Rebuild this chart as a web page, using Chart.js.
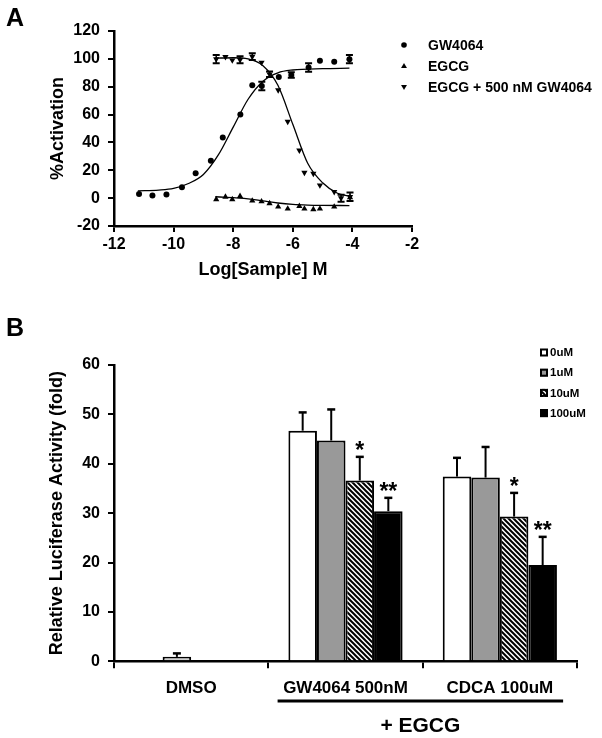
<!DOCTYPE html>
<html>
<head>
<meta charset="utf-8">
<script src="https://cdn.jsdelivr.net/npm/chart.js@4.4.1/dist/chart.umd.min.js"></script>
<style>
  html, body { margin: 0; padding: 0; background: #fff; }
  body { width: 602px; height: 738px; position: relative; overflow: hidden; font-family: "Liberation Sans", Arial, sans-serif; }
  .box { position: absolute; left: 0; width: 602px; }
  #boxA { top: 0; height: 300px; }
  #boxB { top: 300px; height: 438px; }
  .letter { position: absolute; font-weight: bold; font-size: 25px; line-height: 1; z-index: 2; }
</style>
</head>
<body>
<div id="boxA" class="box"><canvas id="chartA"></canvas></div>
<div id="boxB" class="box"><canvas id="chartB"></canvas></div>
<div class="letter" style="left:6px;top:5px">A</div>
<div class="letter" style="left:6px;top:315px">B</div>
<script>
// ---------- Panel A: dose response (x = log molar concentration) ----------
const gwLogConc = [-11.16, -10.71, -10.24, -9.72, -9.26, -8.75, -8.35, -7.76, -7.36, -7.04, -6.47, -6.05, -5.47, -5.09, -4.61, -4.10];
const gwActivation = [2.9, 1.9, 2.6, 7.9, 17.9, 26.9, 43.6, 60.0, 81.0, 80.5, 87.0, 88.4, 93.8, 98.6, 97.9, 99.8];
const gwError = [0, 0, 0, 0, 0, 0, 0, 0, 0, 3, 0, 2, 3, 0, 0, 3];

const egcgLogConc = [-8.57, -8.26, -8.03, -7.77, -7.36, -7.05, -6.78, -6.49, -6.17, -5.78, -5.61, -5.31, -5.09, -4.61, -4.08];
const egcgActivation = [-0.9, 0.9, -0.9, 1.4, -1.9, -2.4, -3.8, -6.2, -7.6, -5.7, -7.6, -8.1, -7.6, -6.2, 0.5];

const comboLogConc = [-8.57, -8.26, -8.03, -7.77, -7.36, -7.05, -6.78, -6.49, -6.17, -5.78, -5.61, -5.31, -5.09, -4.61, -4.38, -4.08];
const comboActivation = [99.8, 101.4, 99.0, 99.3, 101.6, 97.4, 89.0, 77.6, 55.0, 34.3, 18.3, 17.6, 9.3, 4.5, 0.0, 1.0];
const comboError = [3, 0, 0, 2.5, 2.5, 0, 2, 0, 0, 0, 0, 0, 0, 0, 2.5, 3];

// fitted curves
const gwFitX = [-11.2, -10.5, -10, -9.5, -9, -8.5, -8, -7.5, -7, -6.5, -6, -5, -4.1];
const gwFitY = [5.2, 5.8, 7, 10.5, 17, 31, 51, 71, 84, 90, 92, 93, 93.3];
const egcgFitX = [-8.6, -7.5, -7, -6.5, -6, -5.5, -5, -4.1];
const egcgFitY = [1, -0.5, -2, -3.5, -4.5, -5, -5.2, -5.3];
const comboFitX = [-8.6, -8, -7.5, -7, -6.5, -6, -5.5, -5, -4.5, -4.1];
const comboFitY = [100.5, 100.8, 100, 95, 81, 53, 25, 11, 3.5, 1.5];

const xTicksA = [-12, -10, -8, -6, -4, -2];
const yTicksA = [-20, 0, 20, 40, 60, 80, 100, 120];

// ---------- Panel B: luciferase activity ----------
const groupLabels = ['DMSO', 'GW4064 500nM', 'CDCA 100uM'];
const doseLabels = ['0uM', '1uM', '10uM', '100uM'];
const fold0 = [null, 46.7, 37.4];
const fold1 = [0.9, 44.7, 37.2];
const fold10 = [null, 36.6, 29.3];
const fold100 = [null, 30.4, 19.5];
const err0 = [0, 3.7, 3.8];
const err1 = [0.7, 6.3, 6.2];
const err10 = [0, 4.8, 4.8];
const err100 = [0, 2.7, 5.7];
const sig10 = ['', '*', '*'];
const sig100 = ['', '**', '**'];

const FONT = "'Liberation Sans', Arial, sans-serif";
Chart.defaults.font.family = FONT;
Chart.defaults.font.weight = 'bold';
Chart.defaults.color = '#000';

function pts(xs, ys) {
  return xs.map((x, i) => ({ x: x, y: ys[i] }));
}

function marker(ctx, style, x, y, r) {
  ctx.beginPath();
  if (style === 'circle') {
    ctx.arc(x, y, r, 0, Math.PI * 2);
  } else {
    const s = style === 'down' ? -1 : 1;
    ctx.moveTo(x, y - s * r * 1.1);
    ctx.lineTo(x + r * 1.05, y + s * r * 0.7);
    ctx.lineTo(x - r * 1.05, y + s * r * 0.7);
    ctx.closePath();
  }
  ctx.fill();
}

// small symmetric error bars on panel A points + the legend
const errorBarsA = {
  id: 'errorBarsA',
  afterDatasetsDraw(chart) {
    const ctx = chart.ctx, ys = chart.scales.y;
    ctx.save();
    ctx.strokeStyle = '#000';
    chart.data.datasets.forEach((ds, i) => {
      if (!ds.errorBars) return;
      chart.getDatasetMeta(i).data.forEach((pt, j) => {
        const e = ds.errorBars[j];
        if (!e) return;
        const v = ds.data[j].y;
        const y1 = ys.getPixelForValue(v + e), y2 = ys.getPixelForValue(v - e);
        ctx.lineWidth = 1.5;
        ctx.beginPath();
        ctx.moveTo(pt.x, y1); ctx.lineTo(pt.x, y2);
        ctx.stroke();
        ctx.lineWidth = 2;
        ctx.beginPath();
        ctx.moveTo(pt.x - 3.5, y1); ctx.lineTo(pt.x + 3.5, y1);
        ctx.moveTo(pt.x - 3.5, y2); ctx.lineTo(pt.x + 3.5, y2);
        ctx.stroke();
      });
    });
    ctx.restore();
  },
  afterDraw(chart) {
    const ctx = chart.ctx;
    ctx.save();
    ctx.fillStyle = '#000';
    ctx.font = 'bold 14px ' + FONT;
    ctx.textBaseline = 'middle';
    chart.data.datasets.forEach(ds => {
      if (ds.legendRow === undefined) return;
      const y = 45 + ds.legendRow * 21;
      marker(ctx, ds.marker, 404, y, 2.8);
      ctx.fillText(ds.label, 428, y + 1);
    });
    ctx.restore();
  }
};

new Chart(document.getElementById('chartA'), {
  type: 'scatter',
  data: {
    datasets: [
      { label: 'fit GW4064', data: pts(gwFitX, gwFitY), showLine: true, pointRadius: 0, borderColor: '#000', borderWidth: 1.3, cubicInterpolationMode: 'monotone' },
      { label: 'fit EGCG', data: pts(egcgFitX, egcgFitY), showLine: true, pointRadius: 0, borderColor: '#000', borderWidth: 1.3, cubicInterpolationMode: 'monotone' },
      { label: 'fit combo', data: pts(comboFitX, comboFitY), showLine: true, pointRadius: 0, borderColor: '#000', borderWidth: 1.3, cubicInterpolationMode: 'monotone' },
      { label: 'GW4064', data: pts(gwLogConc, gwActivation), errorBars: gwError, legendRow: 0, marker: 'circle',
        pointStyle: 'circle', pointRadius: 3, backgroundColor: '#000', borderColor: '#000', borderWidth: 0 },
      { label: 'EGCG', data: pts(egcgLogConc, egcgActivation), legendRow: 1, marker: 'up',
        pointStyle: 'triangle', pointRadius: 3.6, backgroundColor: '#000', borderColor: '#000', borderWidth: 0 },
      { label: 'EGCG + 500 nM GW4064', data: pts(comboLogConc, comboActivation), errorBars: comboError, legendRow: 2, marker: 'down',
        pointStyle: 'triangle', pointRotation: 180, pointRadius: 3.6, backgroundColor: '#000', borderColor: '#000', borderWidth: 0 }
    ]
  },
  options: {
    responsive: true,
    maintainAspectRatio: false,
    animation: false,
    layout: { padding: { left: 0, top: 31, right: 190, bottom: 0 } },
    plugins: { legend: { display: false }, tooltip: { enabled: false } },
    scales: {
      x: {
        type: 'linear', min: -12, max: -2,
        afterBuildTicks: s => { s.ticks = xTicksA.map(v => ({ value: v })); },
        afterFit: s => { s.height = 74; },
        border: { display: true, color: '#000', width: 2.5 },
        grid: { display: true, drawOnChartArea: false, drawTicks: true, tickLength: 6, color: '#000', lineWidth: 2 },
        ticks: { font: { size: 16, weight: 'bold' }, color: '#000', padding: 3 },
        title: { display: true, text: 'Log[Sample] M', font: { size: 18, weight: 'bold' }, color: '#000', padding: { top: 0, bottom: 19 } }
      },
      y: {
        type: 'linear', min: -20, max: 120,
        afterBuildTicks: s => { s.ticks = yTicksA.map(v => ({ value: v })); },
        afterFit: s => { s.width = 114; },
        border: { display: true, color: '#000', width: 2.5 },
        grid: { display: true, drawOnChartArea: false, drawTicks: true, tickLength: 6, color: '#000', lineWidth: 2 },
        ticks: { font: { size: 16, weight: 'bold' }, color: '#000', padding: 8 },
        title: { display: true, text: '%Activation', font: { size: 18, weight: 'bold' }, color: '#000', padding: { top: 47, bottom: 0 } }
      }
    }
  },
  plugins: [errorBarsA]
});

// ---------- Panel B ----------
function hatchPattern(ctx) {
  const c = document.createElement('canvas');
  c.width = 5; c.height = 5;
  const g = c.getContext('2d');
  g.fillStyle = '#fff';
  g.fillRect(0, 0, 5, 5);
  g.strokeStyle = '#000';
  g.lineWidth = 2;
  g.beginPath();
  for (let k = -5; k <= 5; k += 5) { g.moveTo(k - 1, -1); g.lineTo(k + 6, 6); }
  g.stroke();
  return ctx.createPattern(c, 'repeat');
}

const canvasB = document.getElementById('chartB');
const hatch = hatchPattern(canvasB.getContext('2d'));

const barExtras = {
  id: 'barExtras',
  afterDatasetsDraw(chart) {
    const ctx = chart.ctx, ys = chart.scales.y;
    ctx.save();
    ctx.strokeStyle = '#000';
    ctx.fillStyle = '#000';
    chart.data.datasets.forEach((ds, i) => {
      chart.getDatasetMeta(i).data.forEach((bar, j) => {
        const v = ds.data[j];
        if (v == null) return;
        const top = ys.getPixelForValue(v + ds.errorBars[j]);
        ctx.lineWidth = 2;
        ctx.beginPath(); ctx.moveTo(bar.x, bar.y); ctx.lineTo(bar.x, top); ctx.stroke();
        ctx.lineWidth = 2.5;
        ctx.beginPath(); ctx.moveTo(bar.x - 4, top); ctx.lineTo(bar.x + 4, top); ctx.stroke();
        const s = ds.stars && ds.stars[j];
        if (s) {
          ctx.font = 'bold 23px ' + FONT;
          ctx.textAlign = 'center';
          ctx.textBaseline = 'alphabetic';
          ctx.fillText(s, bar.x, top + 1);
        }
      });
    });
    ctx.restore();
  },
  afterDraw(chart) {
    const ctx = chart.ctx, xs = chart.scales.x;
    ctx.save();
    // legend
    ctx.font = 'bold 11.5px ' + FONT;
    ctx.textBaseline = 'middle';
    ctx.textAlign = 'left';
    chart.data.datasets.forEach((ds, i) => {
      const y = 52.5 + i * 20.2;
      ctx.fillStyle = ds.legendFill;
      ctx.fillRect(540, y - 4, 8, 8);
      ctx.strokeStyle = '#000';
      ctx.lineWidth = 2;
      ctx.strokeRect(541, y - 3, 6, 6);
      ctx.fillStyle = '#000';
      ctx.fillText(ds.label, 550, y + 0.5);
    });
    // "+ EGCG" bracket under the two treated groups
    const catW = xs.width / groupLabels.length;
    const x1 = xs.getPixelForValue(1) - 0.44 * catW;
    const x2 = xs.getPixelForValue(2) + 0.41 * catW;
    ctx.fillRect(x1, 399.5, x2 - x1, 3);
    ctx.font = 'bold 21px ' + FONT;
    ctx.textAlign = 'center';
    ctx.textBaseline = 'middle';
    ctx.fillText('+ EGCG', (x1 + x2) / 2, 426);
    ctx.restore();
  }
};

function barSet(label, data, errs, fill, stars) {
  return {
    label: label, data: data, errorBars: errs, stars: stars,
    backgroundColor: fill, legendFill: Array.isArray(fill) ? fill[1] : fill,
    borderColor: '#000', borderWidth: 2
  };
}

new Chart(canvasB, {
  type: 'bar',
  data: {
    labels: groupLabels,
    datasets: [
      barSet(doseLabels[0], fold0, err0, '#ffffff'),
      barSet(doseLabels[1], fold1, err1, ['#cfcfcf', '#999999', '#999999']),
      barSet(doseLabels[2], fold10, err10, hatch, sig10),
      barSet(doseLabels[3], fold100, err100, '#000000', sig100)
    ]
  },
  options: {
    responsive: true,
    maintainAspectRatio: false,
    animation: false,
    layout: { padding: { left: 0, top: 65, right: 25, bottom: 0 } },
    plugins: { legend: { display: false }, tooltip: { enabled: false } },
    datasets: { bar: { categoryPercentage: 0.74, barPercentage: 1.0 } },
    scales: {
      x: {
        afterFit: s => { s.height = 76.7; },
        border: { display: true, color: '#000', width: 2.5 },
        grid: { display: true, offset: true, drawOnChartArea: false, drawTicks: true, tickLength: 7, color: '#000', lineWidth: 2 },
        ticks: { font: { size: 17, weight: 'bold' }, color: '#000', padding: 10, maxRotation: 0 }
      },
      y: {
        min: 0, max: 60,
        ticks: { stepSize: 10, font: { size: 16, weight: 'bold' }, color: '#000', padding: 8 },
        afterFit: s => { s.width = 114; },
        border: { display: true, color: '#000', width: 2.5 },
        grid: { display: true, drawOnChartArea: false, drawTicks: true, tickLength: 6, color: '#000', lineWidth: 2 },
        title: { display: true, text: 'Relative Luciferase Activity (fold)', font: { size: 18, weight: 'bold' }, color: '#000', padding: { top: 46, bottom: 0 } }
      }
    }
  },
  plugins: [barExtras]
});
</script>
</body>
</html>
